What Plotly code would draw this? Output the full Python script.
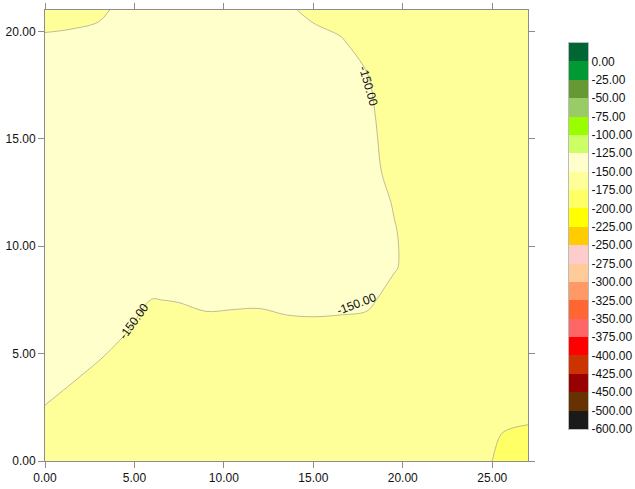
import plotly.graph_objects as go

# Grid coordinates (metres) of the sampled surface
x_nodes = [0, 1.5, 3, 4.5, 6, 7.5, 9, 10.5, 12, 13.5, 15, 16.5, 18, 19.5, 21, 22.5, 24, 25.5, 27]
y_nodes = [0, 1.5, 3, 4.5, 6, 7.5, 9, 10.5, 12, 13.5, 15, 16.5, 18, 19.5, 21]

# Surface values, one row per y node (bottom to top)
z_rows = [
    [-160, -160, -160, -160, -160, -160, -160, -160, -160, -160, -160, -160, -160, -160, -160, -160, -170, -177.5, -190],
    [-156.6, -160, -160, -160, -160, -160, -160, -160, -160, -160, -160, -160, -160, -160, -160, -160, -166, -174.5, -176],
    [-147.6, -153.7, -160, -160, -160, -160, -160, -160, -160, -160, -160, -160, -160, -160, -160, -160, -162, -165, -168],
    [-140, -144.7, -150.9, -158.4, -160, -160, -160, -160, -160, -160, -160, -160, -160, -160, -160, -160, -160, -160, -160],
    [-140, -140, -141.9, -149.4, -159.6, -158.7, -155.8, -156.3, -156.6, -154.8, -154.3, -154.8, -156.6, -160, -160, -160, -160, -160, -160],
    [-140, -140, -140, -140.4, -150.4, -149.2, -146.8, -147.3, -147.6, -145.8, -145.3, -145.8, -146.5, -156.6, -160, -160, -160, -160, -160],
    [-140, -140, -140, -140, -141.6, -140.7, -140, -140, -140, -140, -140, -140, -140.5, -148.5, -158.3, -160, -160, -160, -160],
    [-140, -140, -140, -140, -140, -140, -140, -140, -140, -140, -140, -140, -140, -148.7, -157.7, -160, -160, -160, -160],
    [-140, -140, -140, -140, -140, -140, -140, -140, -140, -140, -140, -140, -141.9, -150.9, -160, -160, -160, -160, -160],
    [-140, -140, -140, -140, -140, -140, -140, -140, -140, -140, -140, -140, -145.2, -154.2, -160, -160, -160, -160, -160],
    [-140, -140, -140, -140, -140, -140, -140, -140, -140, -140, -140, -140, -146.4, -155.4, -160, -160, -160, -160, -160],
    [-140, -140, -140, -140, -140, -140, -140, -140, -140, -140, -140, -140, -147.6, -156.6, -160, -160, -160, -160, -160],
    [-140, -140, -140, -140, -140, -140, -140, -140, -140, -140, -140, -140.7, -149.7, -158.7, -160, -160, -160, -160, -160],
    [-147.3, -146.3, -144.3, -140, -140, -140, -140, -140, -140, -140, -142, -148.2, -156.6, -160, -160, -160, -160, -160, -160],
    [-156.3, -155.3, -153.3, -145.2, -140, -140, -140, -140, -140, -146.4, -155.4, -157.5, -160, -160, -160, -160, -160, -160, -160],
]

# Legend classes, top to bottom; each label marks the lower edge of its band
band_colors = [
    "#006633", "#009933", "#669933", "#99CC66", "#99FF00", "#CCFF66", "#FFFFCC",
    "#FFFF99", "#FFFF66", "#FFFF00", "#FFCC00", "#FFCCCC", "#FFCC99", "#FF9966",
    "#FF6633", "#FF6666", "#FF0000", "#CC3300", "#990000", "#663300", "#1A1A1A",
]
band_labels = [
    "0.00", "-25.00", "-50.00", "-75.00", "-100.00", "-125.00", "-150.00",
    "-175.00", "-200.00", "-225.00", "-250.00", "-275.00", "-300.00", "-325.00",
    "-350.00", "-375.00", "-400.00", "-425.00", "-450.00", "-500.00", "-600.00",
]

# Contour classes used on the map (-200 .. -125 every 25)
level_start, level_end, level_step = -200, -125, 25
# colours for: below -200, -200..-175, -175..-150, -150..-125, above -125
map_colors = [band_colors[9], band_colors[8], band_colors[7], band_colors[6], band_colors[5]]

# Contour labels placed along the -150 isoline: (x, y, angle)
label_level = -150
label_spots = [(4.97, 6.53, -54), (17.41, 7.32, -21), (18.08, 17.46, 74)]

n = len(map_colors)
map_scale = []
for i, c in enumerate(map_colors):
    lo = 0 if i == 0 else (i - 0.5) / (n - 1)
    hi = 1 if i == n - 1 else (i + 0.5) / (n - 1)
    map_scale += [[lo, c], [hi, c]]

FONT = "Liberation Sans, Arial, sans-serif"
LINE = "#8c8c8c"

fig = go.Figure()

fig.add_trace(go.Contour(
    x=x_nodes, y=y_nodes, z=z_rows,
    autocontour=False,
    contours=dict(start=level_start, end=level_end, size=level_step,
                  coloring="fill", showlines=True, showlabels=False),
    colorscale=map_scale,
    line=dict(color="rgb(178,170,140)", width=0.8, smoothing=1.0),
    showscale=False,
    hoverinfo="skip",
    xaxis="x", yaxis="y",
))

# Class legend drawn as a one-column heatmap
nb = len(band_colors)
legend_scale = []
for i, c in enumerate(reversed(band_colors)):
    legend_scale += [[i / nb, c], [(i + 1) / nb, c]]
fig.add_trace(go.Heatmap(
    x=[0], y=[i + 0.5 for i in range(nb)],
    z=[[i] for i in range(nb)],
    zmin=-0.5, zmax=nb - 0.5,
    colorscale=legend_scale, showscale=False, hoverinfo="skip",
    xaxis="x2", yaxis="y2",
))

for lx, ly, ang in label_spots:
    fig.add_annotation(x=lx, y=ly, xref="x", yref="y", text=f"{label_level:.2f}",
                       showarrow=False, textangle=ang,
                       font=dict(family=FONT, size=12, color="#111111"))

W, H = 635, 489
ml, mr, mt, mb = 45, 20, 10, 28
pw = W - ml - mr
ph = H - mt - mb

axis_common = dict(
    showgrid=False, zeroline=False, showline=True, linecolor=LINE, linewidth=1,
    mirror="ticks", ticks="outside", ticklen=6, tickcolor=LINE, tickwidth=1,
    tickformat=".2f", dtick=5, tick0=0, automargin=False,
    tickfont=dict(family=FONT, size=12, color="#111111"),
)

fig.update_layout(
    width=W, height=H,
    margin=dict(l=ml, r=mr, t=mt, b=mb, autoexpand=False),
    paper_bgcolor="white", plot_bgcolor="white",
    showlegend=False,
    xaxis=dict(domain=[0, (528 - ml) / pw], range=[0, 27], **axis_common),
    yaxis=dict(domain=[0, 1], range=[0, 21], **axis_common),
    xaxis2=dict(domain=[(569 - ml) / pw, (588 - ml) / pw], range=[-0.5, 0.5],
                showticklabels=False, ticks="", showgrid=False, zeroline=False,
                showline=True, linecolor="#bbbbbb", mirror=True, anchor="y2",
                automargin=False),
    yaxis2=dict(domain=[(H - mb - 429) / ph, (H - mb - 43) / ph], range=[0, nb],
                anchor="x2", side="right", showgrid=False, zeroline=False,
                showline=True, linecolor="#bbbbbb", mirror=True, ticks="",
                automargin=False,
                tickvals=[nb - 1 - i for i in range(nb)], ticktext=band_labels,
                tickfont=dict(family=FONT, size=12, color="#111111")),
)

fig.write_html("out.html")
